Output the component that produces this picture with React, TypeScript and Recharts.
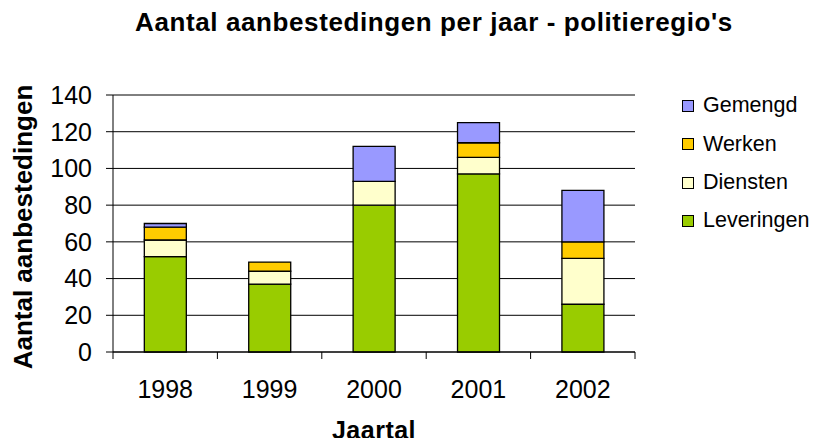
import { BarChart, Bar, XAxis, YAxis, CartesianGrid } from "recharts";

const years = ["1998", "1999", "2000", "2001", "2002"];
const leveringen = [52, 37, 80, 97, 26];
const diensten = [9, 7, 13, 9, 25];
const werken = [7, 5, 0, 8, 9];
const gemengd = [2, 0, 19, 11, 28];
const yTicks = [0, 20, 40, 60, 80, 100, 120, 140];

const series = [
  { key: "Leveringen", values: leveringen, color: "#99CC00" },
  { key: "Diensten", values: diensten, color: "#FFFFCC" },
  { key: "Werken", values: werken, color: "#FFCC00" },
  { key: "Gemengd", values: gemengd, color: "#9999FF" },
];

const data = years.map((year, i) => {
  const row: Record<string, string | number> = { year };
  series.forEach((s) => (row[s.key] = s.values[i]));
  return row;
});

const FONT = "'Liberation Sans', Arial, sans-serif";

// year labels plus tick marks between the categories (Excel style)
function YearTick(props: any) {
  const { x, y, payload, index, visibleTicksCount } = props;
  const half = payload?.offset ?? 52.2;
  const last = index === visibleTicksCount - 1;
  return (
    <g>
      <line x1={x - half} y1={y} x2={x - half} y2={y + 7} stroke="#000" />
      {last && <line x1={x + half} y1={y} x2={x + half} y2={y + 7} stroke="#000" />}
      <text x={x} y={y + 46} textAnchor="middle" fontSize={25} fontFamily={FONT} fill="#000">
        {payload.value}
      </text>
    </g>
  );
}

export default function App() {
  return (
    <div style={{ position: "relative", width: 820, height: 446, margin: -8, background: "#fff", fontFamily: FONT }}>
      <BarChart
        width={820}
        height={446}
        data={data}
        margin={{ top: 95, right: 185, bottom: 54, left: 53 }}
        barCategoryGap="30%"
      >
        <CartesianGrid vertical={false} stroke="#000" strokeWidth={1} />
        <XAxis
          dataKey="year"
          height={40}
          stroke="#000"
          tickLine={false}
          tickSize={0}
          tickMargin={0}
          tick={<YearTick />}
          interval={0}
        />
        <YAxis
          width={60}
          domain={[0, 140]}
          ticks={yTicks}
          stroke="#000"
          tickSize={7}
          tickMargin={14}
          tick={{ fontSize: 25, fill: "#000", fontFamily: FONT }}
        />
        {series.map((s) => (
          <Bar
            key={s.key}
            dataKey={s.key}
            stackId="a"
            fill={s.color}
            stroke="#000"
            strokeWidth={1.3}
            isAnimationActive={false}
          />
        ))}
      </BarChart>

      <svg width={820} height={446} style={{ position: "absolute", left: 0, top: 0, pointerEvents: "none" }}>
        <text x={434} y={31} textAnchor="middle" fontSize={26} fontWeight="bold" letterSpacing={0.6} fontFamily={FONT}>
          Aantal aanbestedingen per jaar - politieregio's
        </text>
        <text transform="rotate(-90)" x={-227} y={32} textAnchor="middle" fontSize={26} fontWeight="bold" fontFamily={FONT}>
          Aantal aanbestedingen
        </text>
        <text x={374} y={439} textAnchor="middle" fontSize={25} fontWeight="bold" letterSpacing={0.5} fontFamily={FONT}>
          Jaartal
        </text>
      </svg>

      <div style={{ position: "absolute", left: 682, top: 106 - 19, width: 138 }}>
        {[...series].reverse().map((s) => (
          <div key={s.key} style={{ display: "flex", alignItems: "center", height: 38.3, fontSize: 21.5, whiteSpace: "nowrap" }}>
            <span style={{ width: 10, height: 10, background: s.color, border: "1px solid #000", marginRight: 9, flexShrink: 0 }} />
            <span style={{ lineHeight: 1 }}>{s.key}</span>
          </div>
        ))}
      </div>
    </div>
  );
}
